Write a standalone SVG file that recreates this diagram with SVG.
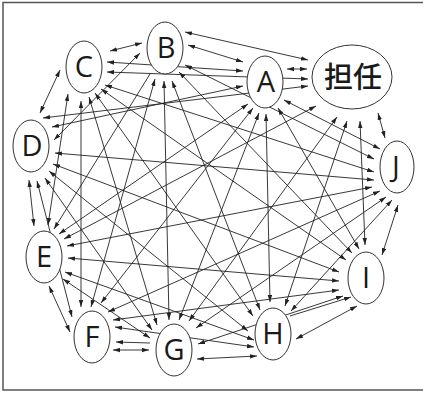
<svg xmlns="http://www.w3.org/2000/svg" width="423" height="393" viewBox="0 0 423 393">
  <defs>
    <marker id="ah" viewBox="0 0 7 5" refX="7" refY="2.5" markerWidth="7" markerHeight="5" markerUnits="userSpaceOnUse" orient="auto-start-reverse">
      <path d="M0,0.3 L7,2.5 L0,4.7 z" fill="#222"/>
    </marker>
  </defs>
  <style>
    .frame { fill: #fff; stroke: #555; stroke-width: 1.5; }
    .edges line { stroke: #222; stroke-width: 0.9; fill: none; }
    .edges .b { marker-start: url(#ah); marker-end: url(#ah); }
    .edges .s { marker-end: url(#ah); }
    .node ellipse { fill: #fff; stroke: #333; stroke-width: 1; }
    .node text { font-family: "Open Sans", "Noto Sans", "Liberation Sans", sans-serif; font-size: 29px; font-weight: 500; fill: #1a1a1a; text-anchor: middle; }
    .node text.cjk { font-family: "Noto Sans CJK JP", "Noto Sans CJK SC", sans-serif; font-size: 29px; font-weight: 500; }
  </style>

  <rect class="frame" x="3" y="2.5" width="425" height="387.5"/>

  <g id="connectors" class="edges">
    <!-- A -->
    <line class="b" x1="243" y1="62" x2="188" y2="45"/>
    <line class="b" x1="243" y1="71" x2="107" y2="62"/>
    <line class="b" x1="243" y1="86" x2="52" y2="127"/>
    <line class="b" x1="248" y1="104" x2="59" y2="234"/>
    <line class="b" x1="253" y1="108" x2="101" y2="303"/>
    <line class="b" x1="259" y1="113" x2="179" y2="320"/>
    <line class="b" x1="266" y1="114" x2="270" y2="302"/>
    <line class="b" x1="278" y1="108" x2="359" y2="249"/>
    <line class="b" x1="284" y1="100" x2="380" y2="149"/>
    <line class="b" x1="287" y1="69" x2="307" y2="69"/>
    <!-- B -->
    <line class="b" x1="142" y1="43" x2="110" y2="51"/>
    <line class="b" x1="140" y1="53" x2="54" y2="140"/>
    <line class="s" x1="150" y1="74" x2="54" y2="229"/>
    <line class="b" x1="155" y1="79" x2="91" y2="307"/>
    <line class="b" x1="164" y1="81" x2="169" y2="320"/>
    <line class="b" x1="172" y1="81" x2="260" y2="310"/>
    <line class="b" x1="179" y1="72" x2="352" y2="253"/>
    <line class="b" x1="185" y1="65" x2="374" y2="159"/>
    <line class="b" x1="185" y1="32" x2="308" y2="60"/>
    <!-- C -->
    <line class="b" x1="60" y1="70" x2="40" y2="113"/>
    <line class="b" x1="68" y1="94" x2="48" y2="225"/>
    <line class="b" x1="81" y1="101" x2="81" y2="307"/>
    <line class="b" x1="89" y1="97" x2="157" y2="325"/>
    <line class="b" x1="95" y1="93" x2="253" y2="316"/>
    <line class="b" x1="101" y1="89" x2="346" y2="260"/>
    <line class="b" x1="105" y1="85" x2="374" y2="172"/>
    <line class="b" x1="107" y1="72" x2="308" y2="79"/>
    <!-- D -->
    <line class="b" x1="29" y1="180" x2="34" y2="226"/>
    <line class="b" x1="37" y1="181" x2="72" y2="317"/>
    <line class="b" x1="45" y1="178" x2="152" y2="330"/>
    <line class="b" x1="49" y1="171" x2="248" y2="331"/>
    <line class="b" x1="53" y1="164" x2="339" y2="272"/>
    <line class="b" x1="55" y1="153" x2="374" y2="180"/>
    <line class="b" x1="43" y1="118" x2="308" y2="86"/>
    <!-- E -->
    <line class="b" x1="49" y1="286" x2="70" y2="332"/>
    <line class="b" x1="63" y1="279" x2="150" y2="338"/>
    <line class="b" x1="65" y1="272" x2="254" y2="340"/>
    <line class="b" x1="68" y1="258" x2="339" y2="281"/>
    <line class="b" x1="67" y1="246" x2="372" y2="187"/>
    <line class="b" x1="64" y1="239" x2="316" y2="106"/>
    <!-- F -->
    <line class="s" x1="150" y1="343" x2="116" y2="342"/>
    <line class="b" x1="113" y1="350" x2="149" y2="350"/>
    <line class="b" x1="115" y1="327" x2="254" y2="347"/>
    <line class="b" x1="113" y1="320" x2="339" y2="290"/>
    <line class="b" x1="108" y1="312" x2="380" y2="191"/>
    <!-- G -->
    <line class="b" x1="197" y1="359" x2="257" y2="356"/>
    <line class="b" x1="198" y1="344" x2="343" y2="296"/>
    <line class="b" x1="196" y1="328" x2="386" y2="197"/>
    <line class="b" x1="189" y1="321" x2="337" y2="117"/>
    <!-- H -->
    <line class="s" x1="290" y1="316" x2="351" y2="297"/>
    <line class="b" x1="296" y1="339" x2="357" y2="306"/>
    <line class="b" x1="291" y1="311" x2="392" y2="200"/>
    <line class="b" x1="285" y1="306" x2="347" y2="121"/>
    <!-- I -->
    <line class="b" x1="382" y1="255" x2="398" y2="205"/>
    <line class="b" x1="365" y1="245" x2="360" y2="121"/>
    <!-- J -->
    <line class="b" x1="385" y1="138" x2="378" y2="113"/>
  </g>

  <g id="node-teacher" class="node">
    <ellipse cx="352" cy="77" rx="40" ry="32"/>
    <text class="cjk" x="353" y="88">担任</text>
  </g>
  <g id="node-A" class="node">
    <ellipse cx="265" cy="82" rx="18" ry="26"/>
    <text x="266" y="92">A</text>
  </g>
  <g id="node-B" class="node">
    <ellipse cx="165" cy="48" rx="18" ry="26"/>
    <text x="166" y="58">B</text>
  </g>
  <g id="node-C" class="node">
    <ellipse cx="84" cy="67" rx="18" ry="26"/>
    <text x="84" y="77">C</text>
  </g>
  <g id="node-D" class="node">
    <ellipse cx="31" cy="146" rx="18" ry="26"/>
    <text x="32" y="156">D</text>
  </g>
  <g id="node-E" class="node">
    <ellipse cx="44" cy="257" rx="18" ry="26"/>
    <text x="44" y="267">E</text>
  </g>
  <g id="node-F" class="node">
    <ellipse cx="92" cy="337" rx="18" ry="26"/>
    <text x="92" y="347">F</text>
  </g>
  <g id="node-G" class="node">
    <ellipse cx="174" cy="350" rx="18" ry="26"/>
    <text x="174" y="360">G</text>
  </g>
  <g id="node-H" class="node">
    <ellipse cx="273" cy="334" rx="18" ry="26"/>
    <text x="273" y="344">H</text>
  </g>
  <g id="node-I" class="node">
    <ellipse cx="366" cy="278" rx="18" ry="26"/>
    <text x="366" y="288">I</text>
  </g>
  <g id="node-J" class="node">
    <ellipse cx="397" cy="167" rx="17" ry="26"/>
    <text x="396" y="177">J</text>
  </g>
</svg>
